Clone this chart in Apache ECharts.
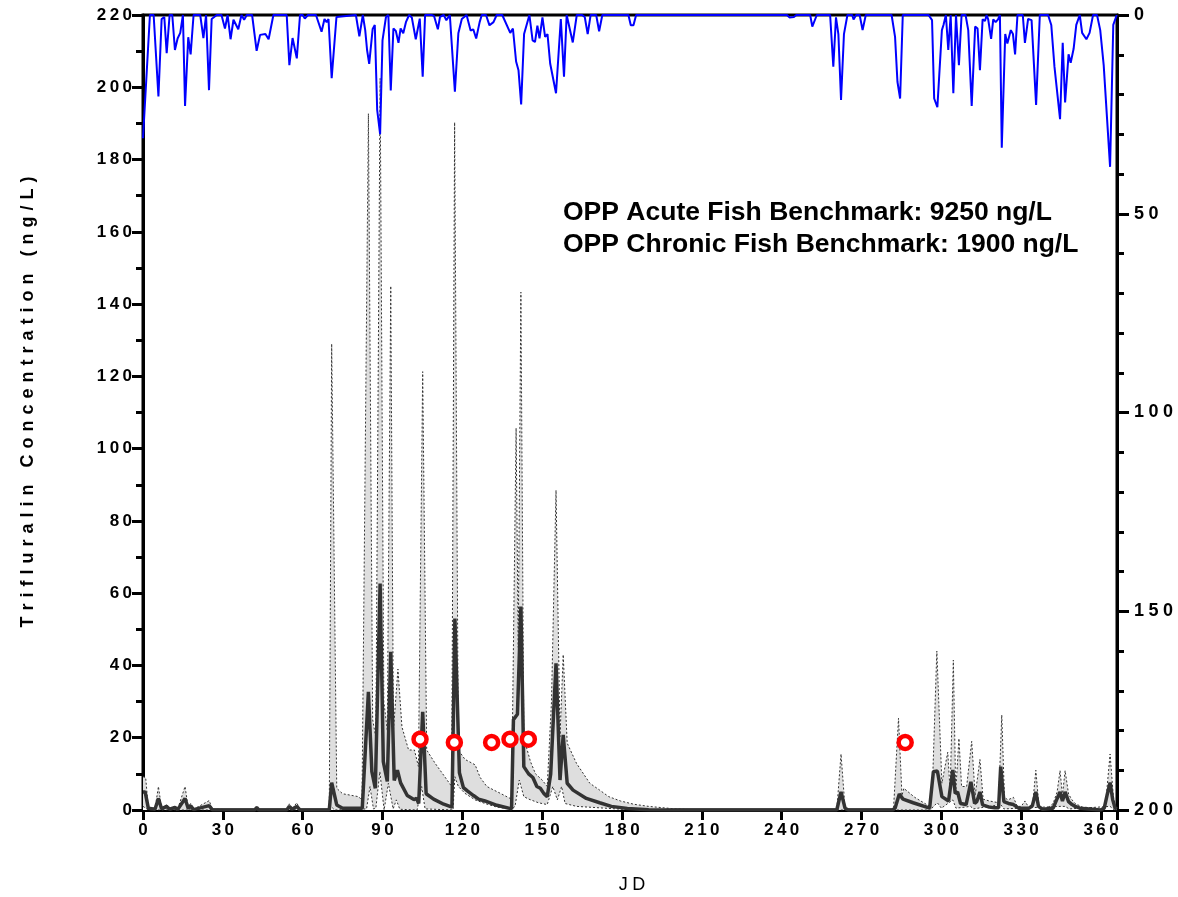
<!DOCTYPE html>
<html>
<head>
<meta charset="utf-8">
<title>Trifluralin</title>
<script src="https://cdn.jsdelivr.net/npm/echarts@6/dist/echarts.min.js"></script>
<style>
  html, body { margin: 0; padding: 0; background: #fff; }
  #chart { width: 1178px; height: 897px; }
</style>
</head>
<body>
<div id="chart"></div>
<script>
// 降雨 (右轴, 倒置) [JD, 值]
const rainfall = [
  [0, 31], [2.6, 0], [4, 0], [5.8, 20.5], [7, 1], [8, 0.5], [8.9, 9.6], [10, 0], [11, 0], [12, 8.8],
  [13, 5.9], [14, 4.5], [15, 0], [15.8, 22.9], [17, 5.6], [17.9, 9.9], [19, 0], [21.5, 0], [22.7, 5.8],
  [23.7, 0], [24.8, 18.9], [25.8, 1], [27.7, 0], [29.5, 0], [30.8, 3.4], [31.8, 0], [32.9, 6.1],
  [34, 1.2], [35.8, 3.6], [37, 0], [38, 1.2], [39, 0], [41, 0], [42.7, 9], [44, 5], [46, 4.8],
  [47.2, 6.1], [49, 0], [54, 0], [55, 12.6], [56.2, 5.8], [56.8, 6.2], [57.8, 10.9], [59, 0], [60, 0],
  [60.8, 0.9], [62, 0], [65, 0], [67.1, 4.2], [68.2, 1], [69, 1.8], [69.7, 1], [70.9, 15.9], [72.7, 0.5],
  [80, 0], [81.3, 5.4], [82.6, 0], [83.5, 3.8], [84.2, 8.8], [85, 12.3], [86.3, 3.5], [87.1, 2.5],
  [88, 23.9], [89.1, 30], [90, 6.4], [91.3, 0.5], [92.2, 0], [93.1, 19], [94.1, 3.4], [95, 4], [96, 7],
  [96.8, 3.4], [97.8, 4.6], [98.8, 1.8], [100, 0], [101, 0.6], [102.5, 6.1], [104, 0.9], [105.1, 15.5],
  [106, 0], [108.6, 0], [109.4, 0.3], [110.8, 3.6], [111.6, 0.5], [113, 0], [114, 1.3], [115.3, 0],
  [117.2, 19.3], [118.5, 4.6], [119.8, 1], [121.6, 0], [123.1, 3.9], [124.1, 3.6], [125.2, 5.9],
  [126.5, 1.8], [127.3, 0], [128.9, 0], [130.2, 2.6], [131.7, 1.8], [132.9, 0], [135, 0], [138, 4.5],
  [139, 3.4], [140.2, 11.7], [141.1, 13.9], [142.1, 22.5], [143.2, 4.8], [145.2, 0], [146.4, 6.4],
  [147.3, 6.8], [148.2, 2.7], [149, 5.9], [150.1, 0.6], [151.1, 5.5], [152, 4.8], [153, 12.2],
  [155.2, 19.7], [157, 1], [158.2, 15.5], [159.2, 0], [161.5, 6.9], [163, 0], [165, 0], [166, 0.5],
  [167.1, 4.8], [168.2, 0], [170.3, 0], [171.4, 4.1], [172.6, 0], [182.4, 0], [183.3, 2.6],
  [184.3, 2.6], [185.3, 0], [242, 0], [242.9, 0.6], [243.6, 0.3], [244.6, 0.5], [245.5, 0], [250.7, 0],
  [251.5, 2.9], [253.2, 0], [258.2, 0], [259.4, 13], [260.4, 0.6], [261.3, 4.8], [262.3, 21.4],
  [263.4, 4.8], [264.7, 0], [266.5, 0], [267, 1.1], [268, 0], [269.3, 0], [270.4, 3.8], [271.6, 0],
  [281.3, 0], [282.6, 5.5], [283.5, 16.8], [284.5, 21], [285.5, 0], [295.2, 0], [296.5, 1.3],
  [297.3, 21], [298.5, 23.2], [300.2, 3.8], [300.8, 2.5], [301.7, 0], [302.6, 8.8], [303.5, 0],
  [304.5, 19.7], [305.5, 0], [306.6, 12.6], [307.6, 0], [309.1, 0], [310.1, 3.8], [311.4, 22.9],
  [312.7, 2.9], [313.6, 3.4], [314.5, 13.9], [315.5, 1.1], [316.4, 1.5], [317, 0], [317.6, 1.1],
  [318.7, 6], [319.5, 1.1], [320.4, 1.8], [321.3, 1.1], [322, 0], [322.7, 33.4], [324, 4.8],
  [324.8, 7.2], [326.1, 3.8], [326.9, 4.8], [327.7, 9.9], [328.6, 0], [330.6, 0], [331.4, 7],
  [332.6, 1], [333.9, 1.3], [335.6, 22.6], [337, 0], [340.1, 0], [341.3, 2.5], [342.5, 13],
  [344.6, 26.2], [345.6, 7], [346.5, 22], [347.8, 9.9], [348.6, 12], [349.7, 8.5], [350.7, 2.5],
  [352, 0], [352.9, 4.5], [354.5, 6.1], [355.7, 4.5], [357, 0], [358.5, 0], [359.7, 3.8], [361, 12.6],
  [363.4, 38.2], [364.6, 2.5], [365.9, 0]
]

// 中值浓度 ng/L
const medianConc = [
  [0, 5], [0.8, 5], [2, 0.5], [4.5, 0.2], [5.8, 3.2], [7, 0.3], [8.9, 1], [10, 0.2], [12, 0.7], [13, 0.1],
  [15.8, 3.2], [17, 0.4], [17.9, 1.2], [19, 0.1], [24.9, 1.2], [26, 0.1], [42, 0], [42.7, 0.7], [43.5, 0],
  [54, 0], [55, 1], [56, 0.2], [57.8, 1], [59, 0], [70, 0], [70.9, 7.6], [72.8, 1.4], [75, 0.5],
  [82.4, 0.5], [84.7, 32.7], [86, 10.6], [87.3, 6], [89.1, 62.7], [90.3, 13.4], [91.8, 7.9], [93.1, 43.8],
  [94.4, 8.2], [95.6, 11], [96.8, 7.5], [99.3, 4], [101.8, 2.9], [102.8, 3.2], [103.6, 1.8], [105.1, 27.2],
  [106.4, 4.5], [109.2, 3], [113, 1.6], [116.1, 0.8], [117.2, 53], [118.9, 10.3], [120.4, 6.2], [122, 5.2],
  [124.2, 4], [126.1, 3], [128.5, 2.5], [133, 1.3], [138.5, 0.3], [139.2, 25], [140.7, 26.5], [142, 56.3],
  [143.1, 12], [144.9, 10], [146.5, 9], [148, 6.5], [149.3, 6], [150.6, 4.6], [151.9, 3.7], [153.2, 10],
  [155.2, 40.6], [156.7, 8.3], [157.9, 20.8], [159.4, 7.4], [161.6, 5.5], [166.6, 3.2], [171.6, 2],
  [176, 1], [182, 0.4], [190, 0.1], [200, 0], [260.7, 0], [262.3, 5], [263.8, 0.5], [265, 0], [281.7, 0],
  [282.6, 0.5], [284.2, 4.4], [285.6, 3], [289.4, 2], [295.6, 0.5], [297, 10.6], [298.5, 10.8],
  [300.2, 3.7], [302.7, 2.5], [304.3, 11.1], [305.2, 4.6], [306.1, 5], [307.2, 1.8], [309.3, 1.5],
  [311.1, 7.8], [312.5, 1.8], [313.3, 2.3], [314.5, 5], [315.5, 1.4], [318, 0.8], [320, 0.6], [321.5, 0.6],
  [322.3, 12], [323.5, 2.3], [325.2, 1.8], [327.1, 1.5], [329, 0.5], [333, 0.5], [334.2, 1.2], [335.5, 5],
  [336.5, 1], [338, 0.2], [342, 0.5], [343.3, 2.8], [344.6, 5], [345.5, 2.5], [346.5, 5], [347.8, 2.3],
  [349.1, 1.5], [350.3, 1], [352, 0.5], [359.8, 0], [361.2, 0.5], [362.4, 4.5], [363.4, 7.6], [364.4, 2.8],
  [365.3, 0.5], [366, 0.3]
]

// 上限
const upperBound = [
  [0, 9.2], [1, 9], [2, 0.5], [4.5, 0.3], [5.8, 6.5], [7, 0.3], [8.9, 1.5], [10, 0.3], [12, 1], [13, 0.2],
  [15.8, 6.5], [17, 0.6], [17.9, 1.8], [19, 0.2], [24.9, 2.6], [26, 0.2], [42, 0], [42.7, 1.1], [43.5, 0],
  [54, 0], [55, 1.7], [56, 0.3], [57.8, 2], [59, 0], [70, 0], [70.9, 129], [72.8, 6], [75, 4.5],
  [80.9, 3.7], [82.3, 2.8], [84.7, 192.7], [86.3, 25], [87.5, 20], [89.1, 202.5], [90.5, 30], [91.8, 22],
  [93.1, 145], [94.1, 22], [95.8, 39], [97.3, 23], [99.8, 16.6], [102, 16.6], [103.5, 12], [105.1, 121.3],
  [106.6, 16.6], [109.7, 13], [113.4, 9.2], [116, 6.5], [117.1, 190.3], [118.5, 16.6], [121, 14],
  [124.8, 12.5], [126.7, 9], [129.2, 6.5], [134.3, 4.6], [138.5, 3], [140.2, 105.7], [141, 45],
  [142, 143.3], [143.1, 20], [145.6, 13.4], [147.5, 10], [150, 8.3], [151.9, 6.5], [153.5, 30],
  [155.2, 88.5], [156.7, 20.3], [157.9, 43], [159.4, 18.5], [162.9, 12.9], [167.9, 7.4], [171.6, 5.5],
  [175, 3.7], [179.4, 2.5], [184.4, 1.6], [190, 1], [200, 0.3], [210, 0], [260.7, 0], [262.3, 15.5],
  [263.8, 0.5], [265, 0], [282, 0], [283.9, 25.4], [285.2, 4], [285.9, 6], [290, 3.5], [295.6, 1],
  [296.8, 10], [298.3, 44], [300.2, 7.4], [302.4, 16], [303.3, 5], [304.5, 41.5], [305.4, 5], [306.6, 19.8],
  [307.6, 6.5], [309.5, 6.5], [311.4, 19], [312.7, 4], [314.5, 14], [315.7, 3], [318, 2.5], [321.5, 2],
  [322.7, 26.3], [323.7, 3.5], [325, 2.8], [327.1, 3.5], [328.5, 1], [330, 1], [331.4, 2.5], [333, 0.5],
  [334.3, 1.5], [335.5, 11], [336.7, 0.8], [339.5, 0.3], [342, 1.8], [343.5, 5], [344.6, 10.9], [345.5, 4],
  [346.5, 10.9], [347.8, 4.4], [349.1, 2.8], [350.3, 1.8], [353, 0.8], [360, 0.5], [361, 0.6], [362, 4],
  [363.4, 15.5], [364.7, 3], [365.5, 1], [366, 0.8]
]

// 下限
const lowerBound = [
  [0, 1], [2, 0], [70, 0], [70.9, 0.8], [72, 0], [84, 0.3], [85.3, 6.5], [86.6, 0.3], [87.5, 0.5],
  [89, 10.6], [90.6, 0], [92.2, 7.4], [94, 0.3], [95.2, 2.8], [96.5, 0.2], [103, 0], [104.7, 6.5],
  [106, 0.3], [116.5, 0], [117.2, 9.2], [118.5, 6.5], [121, 4.6], [124.8, 2.8], [128.5, 1.8], [133, 0.8],
  [138.5, 0.2], [139.8, 1], [141.4, 8.3], [143.1, 3.7], [145, 3], [148.6, 2], [151.9, 1.5], [154, 6.5],
  [155.7, 2.8], [157.3, 6.5], [158.6, 1.8], [162.9, 1], [171.6, 0.6], [180, 0.2], [190, 0], [296, 0],
  [297, 1], [298.5, 2], [300, 0.5], [304.3, 2.8], [305.5, 0.5], [311, 1], [312, 0.3], [322.3, 1.5],
  [323.5, 0.3], [344.6, 1], [346.5, 1], [348, 0.3], [363.4, 1], [365, 0], [366, 0]
]

// 实测值
const observed = [[104.1, 19.6], [117, 18.7], [131, 18.7], [137.9, 19.6], [144.8, 19.6], [286.4, 18.7]]

const benchmarks = ['OPP Acute Fish Benchmark: 9250 ng/L', 'OPP Chronic Fish Benchmark: 1900 ng/L']

const font = '"Liberation Sans", Arial, sans-serif'
// 字间距
const spaced = (s, sep = '\u2009') => String(s).split('').join(sep)

const chart = echarts.init(document.getElementById('chart'))

const axisBase = {
  type: 'value',
  axisLine: { show: true, onZero: false, lineStyle: { color: '#000', width: 3 } },
  axisTick: { show: true, length: 11, lineStyle: { color: '#000', width: 3 } },
  minorTick: { show: false, length: 7, lineStyle: { color: '#000', width: 3 } },
  splitLine: { show: false },
  minorSplitLine: { show: false }
}
const labelBase = { color: '#000', fontSize: 17, fontWeight: 'bold', fontFamily: font }
const bandLine = { color: '#333', width: 1, type: [2, 2] }

const option = {
  animation: false,
  grid: { left: 143, right: 61, top: 15, bottom: 87, show: true, borderColor: '#000', borderWidth: 3 },
  xAxis: {
    ...axisBase,
    min: 0,
    max: 366,
    interval: 30,
    axisTick: { show: true, length: 10, lineStyle: { color: '#000', width: 3 } },
    axisLabel: { ...labelBase, margin: 12, formatter: v => (v % 30 === 0 ? spaced(v) : '') }
  },
  yAxis: [
    {
      ...axisBase,
      min: 0,
      max: 220,
      interval: 20,
      minorTick: { ...axisBase.minorTick, show: true, splitNumber: 2 },
      axisLabel: { ...labelBase, margin: 11, formatter: v => spaced(v) }
    },
    {
      ...axisBase,
      position: 'right',
      inverse: true,
      min: 0,
      max: 200,
      interval: 50,
      axisTick: { show: true, length: 12, lineStyle: { color: '#000', width: 3 } },
      minorTick: { ...axisBase.minorTick, show: true, splitNumber: 5 },
      axisLabel: { ...labelBase, fontSize: 18, margin: 17, formatter: v => spaced(v, '\u2005') }
    }
  ],
  series: [
    {
      name: 'upper',
      type: 'line',
      data: upperBound,
      symbol: 'none',
      z: 1,
      lineStyle: bandLine,
      areaStyle: { color: '#dedede', opacity: 1 }
    },
    {
      name: 'lower',
      type: 'line',
      data: lowerBound,
      symbol: 'none',
      z: 2,
      lineStyle: bandLine,
      areaStyle: { color: '#fff', opacity: 1 }
    },
    {
      name: 'median',
      type: 'line',
      data: medianConc,
      symbol: 'none',
      z: 3,
      lineStyle: { color: '#333', width: 3.5 }
    },
    {
      name: 'rain',
      type: 'line',
      yAxisIndex: 1,
      data: rainfall,
      symbol: 'none',
      z: 4,
      lineStyle: { color: '#0000ff', width: 2 }
    },
    {
      name: 'observed',
      type: 'scatter',
      data: observed,
      symbol: 'circle',
      symbolSize: 13,
      z: 5,
      itemStyle: { color: '#fff', borderColor: '#ff0000', borderWidth: 4.5, opacity: 1 }
    }
  ],
  graphic: [
    {
      type: 'text',
      x: 28,
      y: 402,
      rotation: Math.PI / 2,
      style: {
        text: spaced('Trifluralin Concentration (ng/L)', '\u2004'),
        font: 'bold 18px ' + font,
        fill: '#000',
        align: 'center',
        verticalAlign: 'middle'
      }
    },
    {
      type: 'text',
      x: 632,
      y: 885,
      style: {
        text: spaced('JD', '\u2005'),
        font: '18px ' + font,
        fill: '#000',
        align: 'center',
        verticalAlign: 'middle'
      }
    },
    {
      type: 'text',
      x: 563,
      y: 213,
      style: { text: benchmarks[0], font: 'bold 26.5px ' + font, fill: '#000', align: 'left', verticalAlign: 'middle' }
    },
    {
      type: 'text',
      x: 563,
      y: 245,
      style: { text: benchmarks[1], font: 'bold 26.5px ' + font, fill: '#000', align: 'left', verticalAlign: 'middle' }
    }
  ]
}

chart.setOption(option)
</script>
</body>
</html>
